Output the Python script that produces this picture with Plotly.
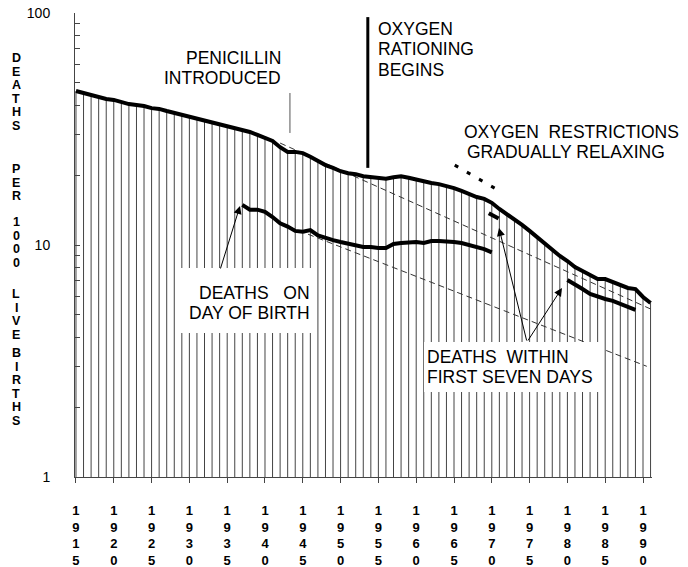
import plotly.graph_objects as go

# ---------------- data ----------------
years = list(range(1915, 1992))
first_week = [46.1, 45.2, 44.3, 43.4, 42.6, 42.2, 41.3, 40.5, 40.1, 39.7,
              38.9, 38.6, 37.8, 37.1, 36.7, 36.0, 35.3, 34.6, 33.9, 33.2,
              32.6, 31.9, 31.3, 30.7, 29.8, 28.9, 28.1, 26.4, 25.2, 25.2,
              24.9, 24.0, 23.0, 22.1, 21.5, 20.8, 20.4, 20.2, 19.8, 19.6,
              19.5, 19.3, 19.6, 19.8, 19.5, 19.1, 18.7, 18.5, 18.3, 18.0,
              17.6, 17.1, 16.6, 16.1, 15.8, 15.2, 14.3, 13.6, 12.9, 12.2,
              11.5, 10.8, 10.2, 9.5, 8.97, 8.53, 8.04, 7.73, 7.43, 7.13,
              7.13, 6.93, 6.72, 6.53, 6.46, 5.97, 5.62]

birth_day_years = list(range(1937, 1971))
birth_day = [14.9, 14.2, 14.2, 13.9, 13.2, 12.4, 12.0, 11.5, 11.4, 11.6,
             11.0, 10.8, 10.5, 10.3, 10.1, 9.9, 9.8, 9.8, 9.7, 9.7,
             10.1, 10.2, 10.3, 10.3, 10.2, 10.4, 10.4, 10.4, 10.3, 10.2,
             10.0, 9.8, 9.6, 9.3]

week_short_years = [1969.6, 1970.9]
week_short = [13.7, 13.0]

week_late_years = list(range(1980, 1990))
week_late = [7.07, 6.79, 6.46, 6.15, 5.97, 5.85, 5.74, 5.57, 5.41, 5.25]

trend_upper_x = [1942, 1991]
trend_upper_y = [27.5, 5.3]
trend_lower_x = [1942, 1990.5]
trend_lower_y = [12.4, 3.0]

penicillin_x = [1943.3, 1943.3]
penicillin_y = [45.2, 30.4]
rationing_x = [1953.6, 1953.6]
rationing_y = [96, 21.5]
relaxing_x = [1965.1, 1971.3]
relaxing_y = [22.1, 16.9]

x_tick_vals = list(range(1915, 1995, 5))
x_tick_text = ["<br>".join(str(v)) for v in x_tick_vals]
y_tick_vals = [1, 2, 3, 4, 5, 6, 7, 8, 9, 10, 20, 30, 40, 50, 60, 70, 80, 90, 100]
y_tick_text = ["1"] + [""] * 8 + ["10"] + [""] * 8 + ["100"]

y_title_words = ["DEATHS", "PER", "1000", "LIVE", "BIRTHS"]

# ---------------- layout helpers ----------------
OFF = 0                      # body margin removed by post_script below
W, H = 688 - OFF, 567 - OFF
ML, MT = 75 - OFF, 13 - OFF
PW, PH = 577, 464
MR, MB = W - ML - PW, H - MT - PH
FONT = "Liberation Sans, Arial, sans-serif"


def px(x):
    """page pixel x -> paper fraction"""
    return (x - OFF - ML) / PW


def py(y):
    """page pixel y -> paper fraction"""
    return (MT + PH - (y - OFF)) / PH


fig = go.Figure()

# hatch: vertical line for every year below the top curve
hx, hy = [], []
for yr, v in zip(years, first_week):
    hx += [yr, yr, None]
    hy += [1, v, None]
fig.add_trace(go.Scatter(x=hx, y=hy, mode="lines",
                         line=dict(color="#444444", width=1), hoverinfo="skip"))

dash_style = dict(color="#333333", width=1, dash="6px,4px")
fig.add_trace(go.Scatter(x=trend_upper_x, y=trend_upper_y, mode="lines", line=dash_style))
fig.add_trace(go.Scatter(x=trend_lower_x, y=trend_lower_y, mode="lines", line=dash_style))

fig.add_trace(go.Scatter(x=penicillin_x, y=penicillin_y, mode="lines",
                         line=dict(color="#555555", width=1)))
fig.add_trace(go.Scatter(x=rationing_x, y=rationing_y, mode="lines",
                         line=dict(color="black", width=3)))
fig.add_trace(go.Scatter(x=relaxing_x, y=relaxing_y, mode="lines",
                         line=dict(color="black", width=3, dash="4px,10px")))

thick = dict(color="black", width=4)
fig.add_trace(go.Scatter(x=years, y=first_week, mode="lines", line=thick))
fig.add_trace(go.Scatter(x=birth_day_years, y=birth_day, mode="lines", line=thick))
fig.add_trace(go.Scatter(x=week_short_years, y=week_short, mode="lines", line=thick))
fig.add_trace(go.Scatter(x=week_late_years, y=week_late, mode="lines", line=thick))

# white boxes behind the two series labels
shapes = [
    dict(type="rect", xref="paper", yref="paper", layer="above",
         x0=px(181), x1=px(315), y0=py(333), y1=py(268),
         fillcolor="white", line=dict(width=0)),
    dict(type="rect", xref="paper", yref="paper", layer="above",
         x0=px(424), x1=px(603), y0=py(392), y1=py(342),
         fillcolor="white", line=dict(width=0)),
]

ann = []


def text_line(s, x, y, anchor):
    ann.append(dict(text=s, xref="paper", yref="paper", x=px(x), y=py(y),
                    xanchor=anchor, yanchor="middle", showarrow=False,
                    font=dict(family=FONT, size=17.5, color="black")))


NB = "\u00a0"
text_line("PENICILLIN", 283, 58, "right")
text_line("INTRODUCED", 283, 78, "right")
text_line("OXYGEN", 376, 29, "left")
text_line("RATIONING", 376, 49, "left")
text_line("BEGINS", 376, 70, "left")
text_line("OXYGEN" + NB + " RESTRICTIONS", 462, 132, "left")
text_line("GRADUALLY RELAXING", 465, 152, "left")
text_line("DEATHS" + NB + "  ON", 312, 293, "right")
text_line("DAY OF BIRTH", 312, 313, "right")
text_line("DEATHS" + NB + " WITHIN", 425, 357, "left")
text_line("FIRST SEVEN DAYS", 425, 377, "left")

# arrows (head position, tail offset in pixels)
for hxp, hyp, tx, ty in [(240, 206, 220, 270), (499, 228, 527, 342), (562, 288, 527, 342)]:
    ann.append(dict(text="", xref="paper", yref="paper", x=px(hxp), y=py(hyp),
                    ax=tx - hxp, ay=ty - hyp, showarrow=True, arrowhead=2,
                    arrowsize=1.6, arrowwidth=1, arrowcolor="black", standoff=0))

# stacked y-axis title
word_top = [58, 169, 222, 294, 353]
for word, top in zip(y_title_words, word_top):
    for i, ch in enumerate(word):
        ann.append(dict(text="<b>" + ch + "</b>", xref="paper", yref="paper",
                        x=px(16), y=py(top + i * 13.6), xanchor="center",
                        yanchor="middle", showarrow=False,
                        font=dict(family=FONT, size=12.5, color="black")))

fig.update_layout(
    width=W, height=H,
    margin=dict(l=ML, r=MR, t=MT, b=MB, autoexpand=False),
    paper_bgcolor="white", plot_bgcolor="white",
    showlegend=False,
    font=dict(family=FONT, color="black"),
    shapes=shapes, annotations=ann,
    xaxis=dict(range=[1914.87, 1991.19], showgrid=False, zeroline=False,
               automargin=False,
               showline=True, linecolor="#444444", linewidth=1,
               ticks="outside", ticklen=5, tickcolor="#444444",
               tickvals=x_tick_vals, ticktext=x_tick_text,
               ticklabelstandoff=16, ticklabeloverflow="allow",
               tickfont=dict(family=FONT, size=13, color="black", weight="bold")),
    yaxis=dict(type="log", range=[0, 2], showgrid=False, zeroline=False,
               automargin=False,
               showline=True, linecolor="#444444", linewidth=1,
               ticks="inside", ticklen=5, tickcolor="#444444",
               tickvals=y_tick_vals, ticktext=y_tick_text,
               ticklabelstandoff=21, ticklabeloverflow="allow",
               tickfont=dict(family=FONT, size=14, color="black")),
)

fig.write_html("out.html",
               config={"displayModeBar": False},
               post_script="document.body.style.margin='0';"
                           "document.body.style.overflow='hidden';")
